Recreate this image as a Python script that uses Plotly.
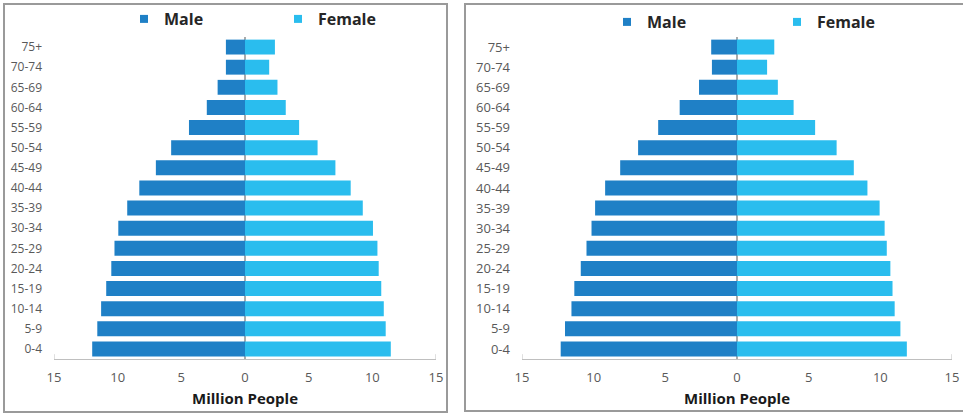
import plotly.graph_objects as go

# Age groups, youngest at the bottom
age_groups = ["0-4", "5-9", "10-14", "15-19", "20-24", "25-29", "30-34", "35-39",
              "40-44", "45-49", "50-54", "55-59", "60-64", "65-69", "70-74", "75+"]

# Population in millions, first pyramid
male_a = [12.0, 11.6, 11.3, 10.9, 10.5, 10.25, 9.95, 9.25, 8.3, 7.0, 5.8, 4.4, 3.0, 2.15, 1.5, 1.5]
female_a = [11.45, 11.05, 10.9, 10.7, 10.5, 10.4, 10.05, 9.25, 8.3, 7.1, 5.7, 4.25, 3.2, 2.55, 1.9, 2.35]

# Population in millions, second pyramid
male_b = [12.3, 12.0, 11.55, 11.35, 10.9, 10.5, 10.15, 9.9, 9.2, 8.15, 6.9, 5.5, 4.0, 2.65, 1.75, 1.8]
female_b = [11.85, 11.4, 11.0, 10.85, 10.7, 10.45, 10.3, 9.95, 9.1, 8.15, 6.95, 5.45, 3.95, 2.85, 2.1, 2.6]

tick_vals = [-15, -10, -5, 0, 5, 10, 15]
tick_text = ["15", "10", "5", "0", "5", "10", "15"]

MALE = "#1f80c6"
FEMALE = "#2abdee"
W, H = 963, 415

def px_x(v):
    return v / W

def px_y(v):
    return 1 - v / H

fig = go.Figure()

panels = [
    (male_a, female_a, "x", "y", "legend", "legend2"),
    (male_b, female_b, "x2", "y2", "legend3", "legend4"),
]

for males, females, xa, ya, lg_m, lg_f in panels:
    fig.add_trace(go.Bar(y=age_groups, x=[-v for v in males], orientation="h",
                         marker=dict(color=MALE, line=dict(width=0)),
                         xaxis=xa, yaxis=ya, showlegend=False, name="Male"))
    fig.add_trace(go.Bar(y=age_groups, x=females, orientation="h",
                         marker=dict(color=FEMALE, line=dict(width=0)),
                         xaxis=xa, yaxis=ya, showlegend=False, name="Female"))
    # legend entries with small square swatches
    fig.add_trace(go.Scatter(x=[None], y=[None], mode="markers", name="Male",
                             marker=dict(symbol="square", size=8, color=MALE),
                             xaxis=xa, yaxis=ya, legend=lg_m))
    fig.add_trace(go.Scatter(x=[None], y=[None], mode="markers", name="Female",
                             marker=dict(symbol="square", size=8, color=FEMALE),
                             xaxis=xa, yaxis=ya, legend=lg_f))

y_dom = [px_y(359), px_y(37)]

xaxis_common = dict(
    range=[-15, 15], tickvals=tick_vals, ticktext=tick_text,
    showgrid=False, zeroline=True, zerolinecolor="#ababab", zerolinewidth=1.5,
    showline=True, linecolor="#bfbfbf", linewidth=1, ticks="",
    tickfont=dict(family="Open Sans", size=13, color="#595959"),
    ticklabelstandoff=6, layer="above traces", fixedrange=True, automargin=False,
    title=dict(text="<b>Million People</b>", standoff=8,
               font=dict(family="Open Sans", size=15, color="#1a1a1a")),
)

def yaxis(anchor, size):
    return dict(domain=y_dom, anchor=anchor, categoryorder="array",
                categoryarray=age_groups, showgrid=False, showline=False,
                ticks="", ticklabelstandoff=11, automargin=False,
                tickfont=dict(family="Open Sans", size=size, color="#595959"),
                fixedrange=True)

legend_font = dict(family="Open Sans", size=16, color="#262626", weight="bold")

def legend(x, y):
    return dict(x=px_x(x), y=px_y(y), xanchor="left", yanchor="middle",
                orientation="h", font=legend_font, bgcolor="rgba(0,0,0,0)",
                borderwidth=0, itemwidth=30)

fig.update_layout(
    width=W, height=H,
    margin=dict(l=0, r=0, t=0, b=0),
    paper_bgcolor="white", plot_bgcolor="white",
    barmode="relative", bargap=0.26,
    xaxis=dict(domain=[px_x(54), px_x(436)], anchor="y", **xaxis_common),
    yaxis=yaxis("x", 12),
    xaxis2=dict(domain=[px_x(522), px_x(952)], anchor="y2", **xaxis_common),
    yaxis2=yaxis("x2", 13),
    legend=legend(124, 19),
    legend2=legend(278, 19),
    legend3=legend(607, 22),
    legend4=legend(777, 22),
)

# end caps on the value axes
for xa, ya in [("x", "y"), ("x2", "y2")]:
    for v in (-15, 15):
        fig.add_shape(type="line", xref=xa, yref=f"{ya} domain",
                      x0=v, x1=v, y0=0, y1=0.015,
                      line=dict(color="#bfbfbf", width=1))

# panel frames
fig.add_shape(type="rect", xref="paper", yref="paper",
              x0=px_x(4), x1=px_x(447), y0=px_y(412), y1=px_y(4),
              line=dict(color="#9a9a9a", width=2), layer="below")
fig.add_shape(type="rect", xref="paper", yref="paper",
              x0=px_x(465), x1=px_x(975), y0=px_y(411), y1=px_y(4),
              line=dict(color="#9a9a9a", width=2), layer="below")

fig.write_html("out.html")
